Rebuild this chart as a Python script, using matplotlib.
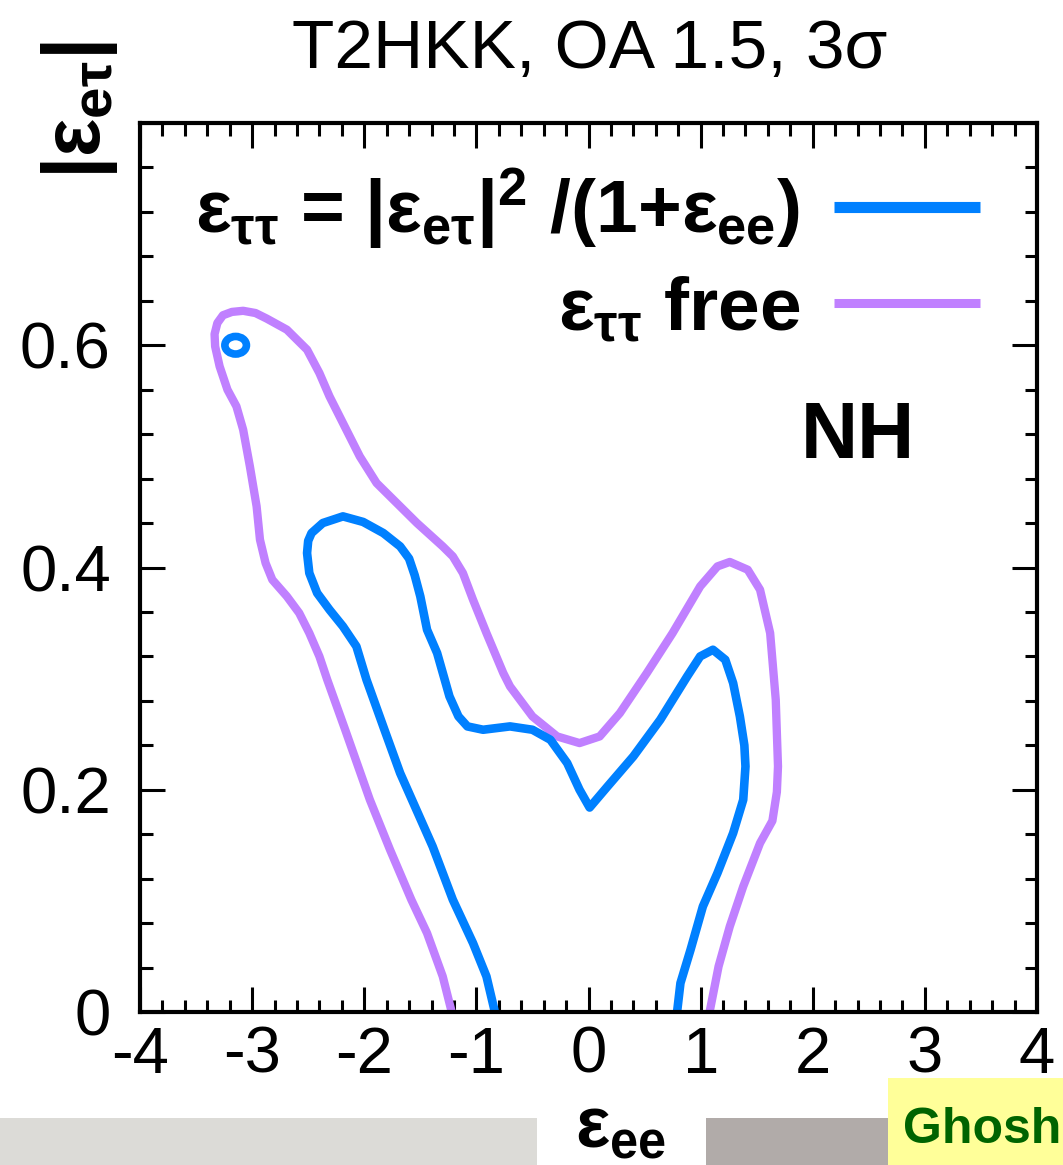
import matplotlib
matplotlib.use("Agg")
import matplotlib.pyplot as plt
from matplotlib.lines import Line2D
from matplotlib.patches import Rectangle, Ellipse
from matplotlib.ticker import MultipleLocator, FixedLocator

plt.rcParams['font.family'] = ['Liberation Sans', 'DejaVu Sans']
plt.rcParams['mathtext.fontset'] = 'custom'
plt.rcParams['mathtext.rm'] = 'Liberation Sans:bold'
plt.rcParams['mathtext.it'] = 'Liberation Sans:bold'
plt.rcParams['mathtext.bf'] = 'Liberation Sans:bold'
plt.rcParams['axes.unicode_minus'] = False

# 3 sigma contour, eps_tautau fixed by |eps_etau|^2/(1+eps_ee)
fixed_ee = [-0.835, -0.91, -1.03, -1.21, -1.39, -1.68, -1.82, -1.98, -2.07, -2.19,
            -2.31, -2.42, -2.49, -2.51, -2.50, -2.47, -2.37, -2.19, -2.01, -1.83,
            -1.68, -1.60, -1.55, -1.50, -1.44, -1.35, -1.24, -1.16, -1.08, -0.94,
            -0.70, -0.50, -0.34, -0.19, -0.08, 0.01, 0.17, 0.40, 0.64, 0.88,
            0.996, 1.11, 1.22, 1.29, 1.35, 1.39, 1.40, 1.38, 1.29, 1.15,
            1.02, 0.91, 0.82, 0.79]
fixed_et = [0.0, 0.032, 0.062, 0.101, 0.149, 0.215, 0.254, 0.299, 0.329, 0.347,
            0.362, 0.377, 0.395, 0.413, 0.424, 0.431, 0.440, 0.446, 0.441, 0.431,
            0.419, 0.408, 0.393, 0.374, 0.344, 0.323, 0.284, 0.266, 0.257, 0.254,
            0.257, 0.254, 0.245, 0.224, 0.200, 0.184, 0.203, 0.230, 0.263, 0.302,
            0.320, 0.326, 0.317, 0.296, 0.266, 0.240, 0.221, 0.191, 0.161, 0.125,
            0.095, 0.056, 0.026, 0.0]

# small isolated island of the fixed case
island_ee, island_et = -3.147, 0.600
island_w, island_h = 0.192, 0.0158

# 3 sigma contour, eps_tautau free
free_ee = [-1.22, -1.30, -1.44, -1.58, -1.77, -1.95, -2.17, -2.33, -2.40, -2.49,
           -2.58, -2.69, -2.82, -2.88, -2.93, -2.96, -3.02, -3.08, -3.14, -3.22,
           -3.29, -3.33, -3.335, -3.31, -3.26, -3.18, -3.08, -2.97, -2.87, -2.69,
           -2.51, -2.40, -2.31, -2.19, -2.04, -1.89, -1.71, -1.53, -1.30, -1.21,
           -1.12, -1.03, -0.91, -0.76, -0.70, -0.50, -0.28, -0.08, 0.10, 0.28,
           0.52, 0.75, 0.996, 1.15, 1.26, 1.42, 1.53, 1.62, 1.67, 1.69,
           1.68, 1.64, 1.53, 1.38, 1.26, 1.16, 1.08]
free_et = [0.0, 0.032, 0.071, 0.101, 0.146, 0.191, 0.254, 0.299, 0.320, 0.341,
           0.359, 0.374, 0.389, 0.404, 0.425, 0.455, 0.491, 0.524, 0.545, 0.560,
           0.581, 0.599, 0.610, 0.620, 0.627, 0.630, 0.631, 0.629, 0.624, 0.614,
           0.596, 0.575, 0.554, 0.530, 0.500, 0.476, 0.458, 0.440, 0.419, 0.410,
           0.395, 0.371, 0.341, 0.305, 0.293, 0.266, 0.248, 0.242, 0.248, 0.269,
           0.305, 0.341, 0.383, 0.401, 0.405, 0.398, 0.380, 0.341, 0.281, 0.221,
           0.198, 0.172, 0.152, 0.113, 0.077, 0.041, 0.0]

x_ticks = [-4, -3, -2, -1, 0, 1, 2, 3, 4]
x_ticklabels = ['-4', '-3', '-2', '-1', '0', '1', '2', '3', '4']
y_ticks = [0, 0.2, 0.4, 0.6]
y_ticklabels = ['0', '0.2', '0.4', '0.6']

BLUE = '#0080FF'
PURPLE = '#C080FF'

W, H = 1063, 1165
fig = plt.figure(figsize=(W / 100, H / 100), dpi=100)
ax = fig.add_axes([140 / W, 1 - 1012 / H, 897 / W, 889 / H])

ax.plot(free_ee, free_et, color=PURPLE, lw=6.0, solid_joinstyle='round',
        solid_capstyle='butt')
ax.plot(fixed_ee, fixed_et, color=BLUE, lw=6.2, solid_joinstyle='round',
        solid_capstyle='butt')
ax.add_patch(Ellipse((island_ee, island_et), island_w, island_h, fill=False,
                     edgecolor=BLUE, lw=5.5))

ax.set_xlim(-4, 4)
ax.set_ylim(0, 0.8)
ax.xaxis.set_major_locator(FixedLocator(x_ticks))
ax.set_xticklabels(x_ticklabels)
ax.xaxis.set_minor_locator(MultipleLocator(0.2))
ax.yaxis.set_major_locator(FixedLocator(y_ticks + [0.8]))
ax.set_yticklabels(y_ticklabels + [''])
ax.yaxis.set_minor_locator(MultipleLocator(0.04))
ax.tick_params(which='both', direction='in', top=True, right=True, width=2.2)
ax.tick_params(which='major', length=18)
ax.tick_params(which='minor', length=9)
ax.tick_params(axis='x', which='major', labelsize=47, pad=10)
ax.tick_params(axis='y', which='major', labelsize=47, pad=21)
for s in ax.spines.values():
    s.set_linewidth(3.0)

# legend: text on the left, right aligned, sample line on the right
handles = [Line2D([], [], color=BLUE, lw=8.0, solid_capstyle='butt'),
           Line2D([], [], color=PURPLE, lw=6.5, solid_capstyle='butt')]
labels = [r'$\varepsilon_{\tau\tau}$ = |$\varepsilon_{e\tau}$|$^{2}$ /(1+$\varepsilon_{ee}$)',
          r'$\varepsilon_{\tau\tau}$ free']
ax.legend(handles, labels, markerfirst=False, frameon=False,
          prop={'family': 'Liberation Sans', 'weight': 'bold', 'size': 54},
          handlelength=1.95, handletextpad=0.45, labelspacing=0.3,
          loc='upper right', bbox_to_anchor=(980 / W, 1 - 166 / H),
          bbox_transform=fig.transFigure, borderpad=0, borderaxespad=0)

ax.text(858 / W, 1 - 437 / H, 'NH', transform=fig.transFigure, ha='center',
        va='center', fontsize=57, fontweight='bold')

fig.text(590 / W, 1 - 50 / H, 'T2HKK, OA 1.5, 3σ', ha='center', va='center',
         fontsize=50)
fig.text(80 / W, 1 - 110 / H, r'|$\varepsilon_{e\tau}$|', rotation=90,
         ha='center', va='center', fontsize=58, fontweight='bold')
fig.text(620 / W, 1 - 1128 / H, r'$\varepsilon_{ee}$', ha='center', va='center',
         fontsize=52, fontweight='bold')

# slide background strips along the bottom edge
fig.add_artist(Rectangle((0, 0), 537 / W, 47 / H, transform=fig.transFigure,
                         facecolor='#dcdbd7', edgecolor='none', zorder=0))
fig.add_artist(Rectangle((706 / W, 0), 182 / W, 47 / H, transform=fig.transFigure,
                         facecolor='#b1aba9', edgecolor='none', zorder=0))
fig.add_artist(Rectangle((888 / W, 0), 175 / W, 87 / H, transform=fig.transFigure,
                         facecolor='#ffff99', edgecolor='none', zorder=0))
fig.text(903 / W, 1 - 1143 / H, 'Ghosh', ha='left', va='baseline',
         fontsize=36, fontweight='bold', color='#006400')

fig.savefig('out.png', dpi=100)
